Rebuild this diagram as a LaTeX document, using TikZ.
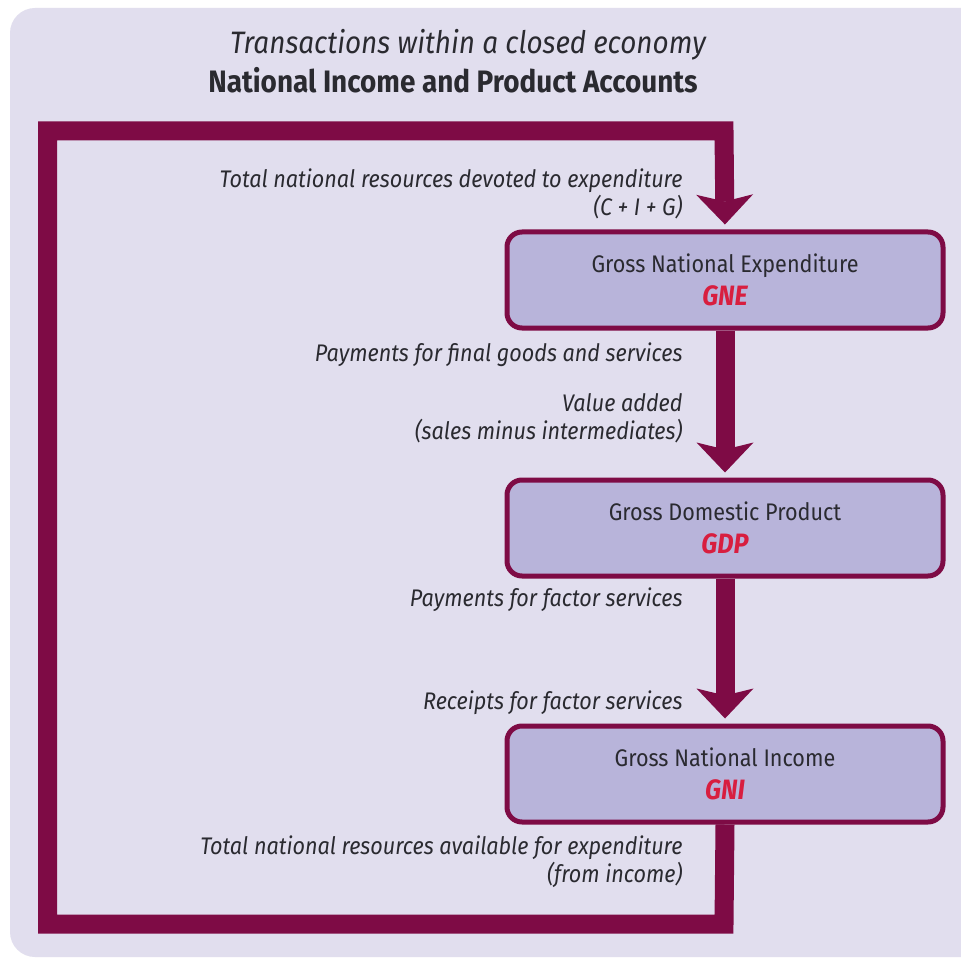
\documentclass[tikz,border=0pt]{standalone}
\usepackage{fontspec}
\setmainfont[FakeStretch=0.9]{Fira Sans}
\usepackage{tikz}
\usetikzlibrary{arrows.meta}

\definecolor{pagecol}{HTML}{E1DEEE}
\definecolor{boxcol}{HTML}{B8B4DA}
\definecolor{pipecol}{HTML}{7E0B45}
\definecolor{accred}{HTML}{D81E3F}
\definecolor{inkcol}{HTML}{2A2A30}

\begin{document}
\begin{tikzpicture}[x=1pt,y=-1pt,
  acct/.style={draw=pipecol,line width=5pt,fill=boxcol,rounded corners=15pt,
    minimum width=436pt,minimum height=96pt,inner sep=0pt,align=center,
    text=inkcol,font=\fontsize{24}{33}\selectfont},
  lbl/.style={anchor=east,align=right,text=inkcol,font=\fontsize{24}{28}\selectfont\itshape},
  pipe/.style={draw=pipecol,line width=19pt},
  flow/.style={pipe,-{Stealth[length=30pt,width=57pt,inset=7pt,line width=0pt]},shorten >=5pt}]
\useasboundingbox (0,0) rectangle (961,960);
\fill[white] (0,0) rectangle (961,960);
\fill[pagecol,rounded corners=25pt] (10,8) rectangle (1000,957);

% title
\node[text=inkcol,font=\fontsize{31}{34}\selectfont\itshape] (ttl) at (468,45) {Transactions within a closed economy};
\node[text=inkcol,font=\fontsize{31}{34}\selectfont\bfseries] (subttl) at (453,80) {National Income and Product Accounts};

% the three accounts
\node[acct] (gne) at (725,280) {Gross National Expenditure\\{\color{accred}\fontsize{28}{30}\selectfont\bfseries\itshape GNE}};
\node[acct] (gdp) at (725,528) {Gross Domestic Product\\{\color{accred}\fontsize{28}{30}\selectfont\bfseries\itshape GDP}};
\node[acct] (gni) at (725,774) {Gross National Income\\{\color{accred}\fontsize{28}{30}\selectfont\bfseries\itshape GNI}};

% loop back from income to expenditure
\coordinate (loopBR) at (724,924);
\coordinate (loopBL) at (47.5,924);
\coordinate (loopTL) at (47.5,131);
\coordinate (loopTR) at (724,131);
\draw[flow] (gni.south) -- (loopBR) -- (loopBL) -- (loopTL) -- (loopTR) -- (gne.north);
\draw[flow] (gne.south) -- (gdp.north);
\draw[flow] (gdp.south) -- (gni.north);

% labels
\node[lbl] (lblspend) at (686,194) {Total national resources devoted to expenditure\\(C + I + G)};
\node[lbl] (lblfinal) at (686,355) {Payments for final goods and services};
\node[lbl] (lblvalue) at (686,418) {Value added\\(sales minus intermediates)};
\node[lbl] (lblpay) at (686,600) {Payments for factor services};
\node[lbl] (lblrec) at (686,703) {Receipts for factor services};
\node[lbl] (lblavail) at (686,862) {Total national resources available for expenditure\\(from income)};
\end{tikzpicture}
\end{document}
